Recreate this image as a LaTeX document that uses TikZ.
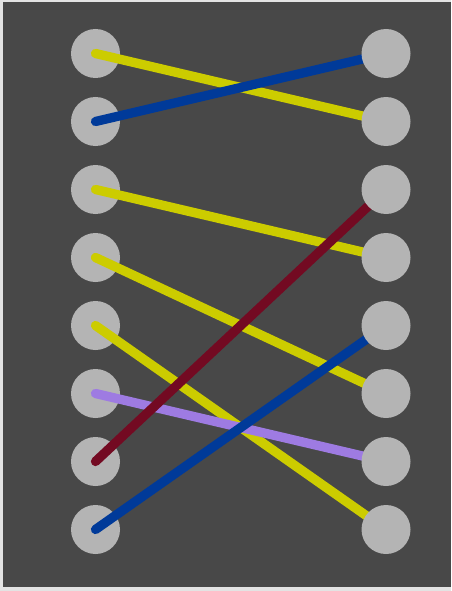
\documentclass[tikz,border=0pt]{standalone}
\pgfdeclarelayer{back}
\pgfdeclarelayer{wires}
\pgfsetlayers{back,wires,main}
\definecolor{slate}{HTML}{484848}
\definecolor{pin}{HTML}{B4B4B4}
\definecolor{wireyellow}{HTML}{CCCC00}
\definecolor{wireblue}{HTML}{003A99}
\definecolor{wirered}{HTML}{730A22}
\definecolor{wirepurple}{HTML}{9E7BE2}
\tikzset{
  port/.style={circle, fill=pin, minimum size=49pt, inner sep=0pt},
  wire/.style={line width=9.3pt, line cap=round},
}
\begin{document}
\begin{tikzpicture}[x=1pt, y=-1pt]
  \useasboundingbox (0,0) rectangle (451,591);
  \begin{pgfonlayer}{back}
    \fill[white!85!slate] (0,0) rectangle (451,591);
    \fill[slate] (3,2) rectangle (451,587);
    % left column
    \foreach \i in {1,...,8}
      \node[port] (L\i) at (95.5,{53.5+68*(\i-1)}) {};
  \end{pgfonlayer}
  % right column
  \foreach \i in {1,...,8}
    \node[port] (R\i) at (386,{53.5+68*(\i-1)}) {};
  \begin{pgfonlayer}{wires}
    \draw[wire, wireyellow] (L1.center) -- (R2.center);
    \draw[wire, wireblue] (L2.center) -- (R1.center);
    \draw[wire, wireyellow] (L3.center) -- (R4.center);
    \draw[wire, wireyellow] (L4.center) -- (R6.center);
    \draw[wire, wireyellow] (L5.center) -- (R8.center);
    \draw[wire, wirepurple] (L6.center) -- (R7.center);
    \draw[wire, wirered] (L7.center) -- (R3.center);
    \draw[wire, wireblue] (L8.center) -- (R5.center);
  \end{pgfonlayer}
\end{tikzpicture}
\end{document}
